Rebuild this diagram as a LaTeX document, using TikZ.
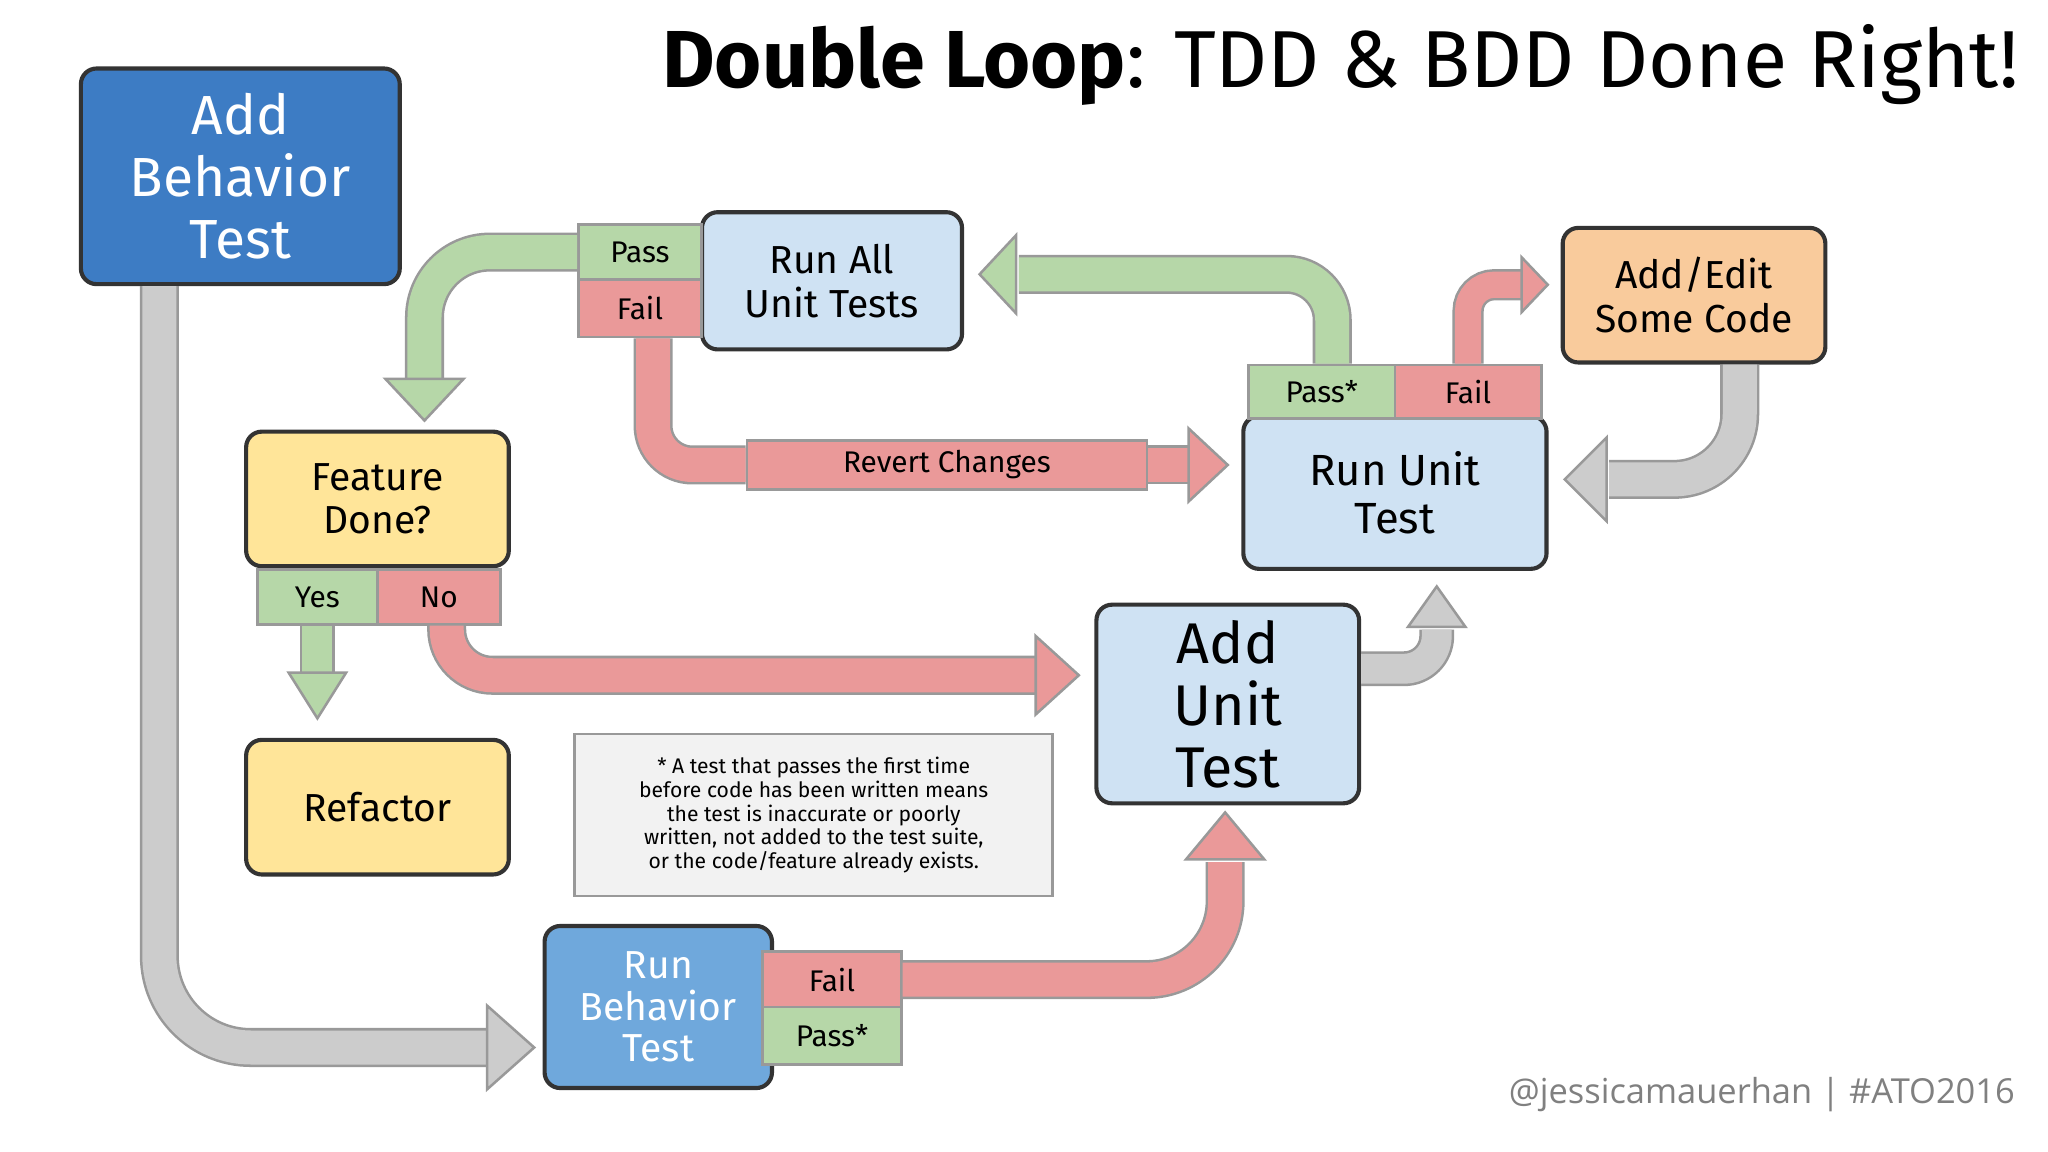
\documentclass[tikz,border=0pt]{standalone}
\usepackage{fontspec}
\setmainfont{Fira Sans}
\newfontfamily\footfont{Open Sans}
\usetikzlibrary{positioning}
\definecolor{bluedark}{HTML}{3D7CC4}
\definecolor{bluemid}{HTML}{6FA8DC}
\definecolor{bluelite}{HTML}{CFE2F3}
\definecolor{yel}{HTML}{FFE599}
\definecolor{org}{HTML}{F9CB9C}
\definecolor{grn}{HTML}{B6D7A8}
\definecolor{rd}{HTML}{EA9999}
\definecolor{gry}{HTML}{CCCCCC}
\definecolor{edge}{HTML}{333333}
\definecolor{arredge}{HTML}{999999}
\tikzset{
  box/.style={draw=edge, line width=0.9pt, rounded corners=0.12cm, align=center, inner sep=0pt},
  tag/.style={draw=arredge, line width=0.6pt, inner sep=0pt, font=\fontsize{6.5}{7}\selectfont},
  arrline/.style={draw=arredge}
}
% fat arrow body: colour, width, radius, path
\newcommand\fat[4]{%
  \draw[arrline, line width=#2+1.1pt, rounded corners=#3] #4;
  \draw[draw=#1, line width=#2, rounded corners=#3] #4;}
% fat arrow head: colour, x, y, angle, length, half width
\newcommand\hd[6]{%
  \filldraw[fill=#1, arrline, line width=0.55pt, shift={(#2,#3)}, rotate=#4, line join=miter]
    (0,-#6) -- (#5,0) -- (0,#6) -- cycle;}
\begin{document}
\begin{tikzpicture}[x=0.01cm, y=-0.01cm]
\useasboundingbox[fill=white] (0,0) rectangle (1568,882);
% title
\node[anchor=east, font=\fontsize{17.6}{19}\selectfont] (title) at (1558,50)
  {\textbf{Double Loop}: TDD \& BDD Done Right!};
% nodes
\node[box, fill=bluedark, text=white, minimum width=2.44cm, minimum height=1.65cm,
  font=\fontsize{12}{13.5}\selectfont] (abt) at (184,135) {Add\\Behavior\\Test};
\node[box, fill=bluelite, minimum width=1.99cm, minimum height=1.05cm,
  font=\fontsize{8.5}{9.5}\selectfont] (raut) at (637,215) {Run All\\Unit Tests};
\node[tag, fill=grn, minimum width=0.94cm, minimum height=0.42cm] (rpass) at (490,193) {Pass};
\node[tag, fill=rd, minimum width=0.94cm, minimum height=0.44cm] (rfail) at (490,236) {Fail};
\node[box, fill=org, minimum width=2.01cm, minimum height=1.03cm,
  font=\fontsize{8.5}{9.5}\selectfont] (code) at (1297,226) {Add/Edit\\Some Code};
\node[box, fill=bluelite, minimum width=2.32cm, minimum height=1.17cm,
  font=\fontsize{9.5}{10.5}\selectfont] (rut) at (1068,377) {Run Unit\\Test};
\node[tag, fill=grn, minimum width=1.12cm, minimum height=0.41cm] (upass) at (1012,300) {Pass*};
\node[tag, fill=rd, minimum width=1.12cm, minimum height=0.41cm] (ufail) at (1124,300) {Fail};
\node[box, fill=yel, minimum width=2.01cm, minimum height=1.03cm,
  font=\fontsize{8.5}{9.5}\selectfont] (done) at (289,382) {Feature\\Done?};
\node[tag, fill=grn, minimum width=0.92cm, minimum height=0.42cm] (yes) at (243,457) {Yes};
\node[tag, fill=rd, minimum width=0.94cm, minimum height=0.42cm] (no) at (336,457) {No};
\node[tag, fill=rd, minimum width=3.06cm, minimum height=0.38cm] (revert) at (725,356) {Revert Changes};
\node[box, fill=bluelite, minimum width=2.01cm, minimum height=1.52cm,
  font=\fontsize{12.5}{13.5}\selectfont] (aut) at (940,539) {Add\\Unit\\Test};
\node[box, fill=yel, minimum width=2.01cm, minimum height=1.03cm,
  font=\fontsize{8.5}{9.5}\selectfont] (refac) at (289,618) {Refactor};
\node[draw=arredge, fill=gray!10, line width=0.6pt, minimum width=3.66cm, minimum height=1.24cm,
  align=center, inner sep=0pt, font=\fontsize{4.6}{5.2}\selectfont] (note) at (623,624)
  {* A test that passes the first time\\before code has been written means\\the test is inaccurate or poorly\\written, not added to the test suite,\\or the code/feature already exists.};
\node[box, fill=bluemid, text=white, minimum width=1.74cm, minimum height=1.24cm,
  font=\fontsize{8.5}{9}\selectfont] (rbt) at (504,771) {Run\\Behavior\\Test};
\node[tag, fill=rd, minimum width=1.06cm, minimum height=0.43cm] (bfail) at (637,750) {Fail};
\node[tag, fill=grn, minimum width=1.06cm, minimum height=0.44cm] (bpass) at (637,793) {Pass*};
\node[anchor=east, text=gray, font=\footfont\fontsize{7.5}{8}\selectfont] (foot) at (1555,838)
  {@jessicamauerhan | \#ATO2016};
% arrows
\fat{gry}{7.4pt}{0.7cm}{(abt.south -| 122,0) -- (122,802) -- (376,802)}
\hd{gry}{373}{802}{0}{36}{32}
\fat{grn}{7.4pt}{0.5cm}{(rpass.west) -- (325,193) -- (325,292)}
\hd{grn}{325}{290}{-90}{32}{30}
\fat{rd}{7.4pt}{0.3cm}{(rfail.south -| 500,0) -- (500,356) -- (revert.west)}
\fat{rd}{7.4pt}{0cm}{(revert.east) -- (912,356)}
\hd{rd}{910}{356}{0}{30}{28}
\fat{grn}{7.4pt}{0.35cm}{(upass.north -| 1020,0) -- (1020,210) -- (780,210)}
\hd{grn}{778}{210}{180}{28}{30}
\fat{rd}{5.7pt}{0.2cm}{(ufail.north) -- (1124,218) -- (1167,218)}
\hd{rd}{1165}{218}{0}{20}{21}
\fat{gry}{7.4pt}{0.5cm}{(code.south -| 1332,0) -- (1332,367) -- (1232,367)}
\hd{gry}{1230}{367}{180}{32}{32}
\fat{grn}{6.5pt}{0cm}{(yes.south) -- (243,517)}
\hd{grn}{243}{515}{-90}{35}{22}
\fat{rd}{7.4pt}{0.35cm}{(no.south -| 342,0) -- (342,517) -- (795,517)}
\hd{rd}{793}{517}{0}{33}{30}
\fat{gry}{6.5pt}{0.25cm}{(aut.east |- 0,512) -- (1100,512) -- (1100,482)}
\hd{gry}{1100}{480}{90}{31}{22}
\fat{rd}{7.4pt}{0.6cm}{(bfail.east) -- (938,750) -- (938,660)}
\hd{rd}{938}{658}{90}{36}{30}
\end{tikzpicture}
\end{document}
